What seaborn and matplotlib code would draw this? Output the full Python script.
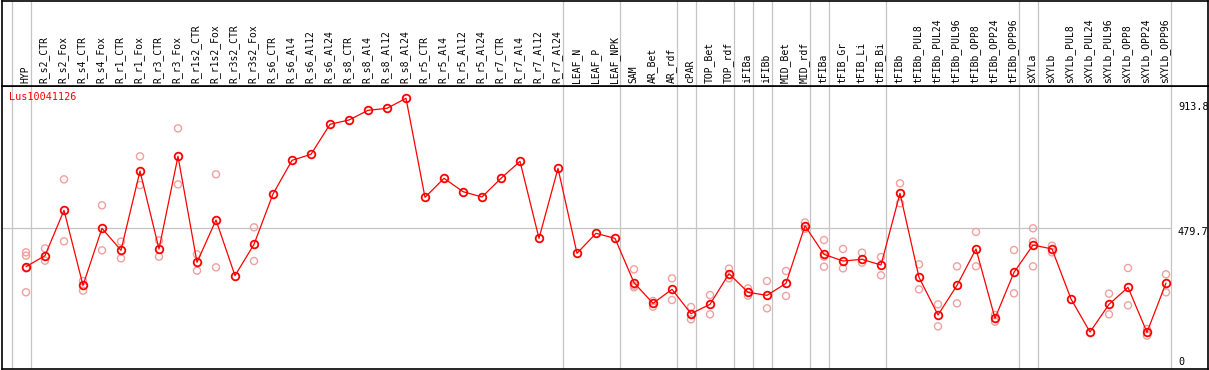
import numpy as np
import pandas as pd
import matplotlib
matplotlib.use("Agg")
import matplotlib.pyplot as plt
import seaborn as sns

categories = [
    "HYP", "R_s2_CTR", "R_s2_Fox", "R_s4_CTR", "R_s4_Fox", "R_r1_CTR", "R_r1_Fox",
    "R_r3_CTR", "R_r3_Fox", "R_r1s2_CTR", "R_r1s2_Fox", "R_r3s2_CTR", "R_r3s2_Fox",
    "R_s6_CTR", "R_s6_Al4", "R_s6_Al12", "R_s6_Al24", "R_s8_CTR", "R_s8_Al4",
    "R_s8_Al12", "R_s8_Al24", "R_r5_CTR", "R_r5_Al4", "R_r5_Al12", "R_r5_Al24",
    "R_r7_CTR", "R_r7_Al4", "R_r7_Al12", "R_r7_Al24", "LEAF_N", "LEAF_P", "LEAF_NPK",
    "SAM", "AR_Bet", "AR_rdf", "cPAR", "TOP_Bet", "TOP_rdf", "iFIBa", "iFIBb",
    "MID_Bet", "MID_rdf", "tFIBa", "tFIB_Gr", "tFIB_Li", "tFIB_Bi", "tFIBb",
    "tFIBb_PUL8", "tFIBb_PUL24", "tFIBb_PUL96", "tFIBb_OPP8", "tFIBb_OPP24",
    "tFIBb_OPP96", "sXYLa", "sXYLb", "sXYLb_PUL8", "sXYLb_PUL24", "sXYLb_PUL96",
    "sXYLb_OPP8", "sXYLb_OPP24", "sXYLb_OPP96",
]

mean_values = [
    351.6, 388.3, 539.7, 289.2, 479.6, 406.1, 671.0, 410.6, 720.0, 366.0,
    507.4, 321.5, 426.2, 594.2, 706.6, 726.7, 826.9, 841.3, 873.6, 880.3,
    913.8, 583.0, 646.5, 602.0, 584.2, 646.5, 703.3, 446.1, 679.9, 396.1,
    462.9, 446.1, 298.1, 229.1, 275.9, 194.6, 225.7, 328.2, 265.9, 255.8,
    295.9, 488.0, 392.7, 370.5, 376.0, 357.1, 596.5, 316.0, 190.2, 289.2,
    410.6, 179.1, 332.6, 423.9, 410.6, 243.6, 133.4, 225.7, 282.6, 132.3,
    297.0,
]

replicate_values = [
    [399.5, 388.2, 346.1, 266.0], [412.6, 371.6], [643.1, 436.2], [303.7, 271.4],
    [556.4, 406.1], [435.1, 379.4], [720.0, 624.0], [439.5, 384.9], [813.4, 626.4],
    [392.7, 338.2], [659.9, 349.4], [], [482.9, 370.5],
    [], [], [], [], [], [], [], [], [], [], [], [], [], [], [], [], [], [], [],
    [342.6, 288.0, 282.7], [236.9, 218.0], [312.6, 240.3], [216.9, 175.7],
    [256.9, 192.4], [344.9, 312.6], [279.2, 254.7], [303.7, 212.4],
    [337.1, 253.6], [499.0, 478.0], [440.6, 351.6, 385.0], [410.6, 346.0],
    [398.3, 364.9], [383.8, 322.6], [629.9, 563.1], [359.4, 275.9],
    [225.7, 152.3], [352.7, 229.1], [467.4, 352.7], [190.2, 167.9],
    [407.2, 262.5], [479.6, 435.1, 352.7], [421.7, 399.4], [],
    [], [261.4, 192.4], [347.1, 222.4], [143.4, 121.2], [326.0, 265.9],
]

group_sizes = [1, 28, 3, 3, 1, 2, 1, 1, 2, 1, 3, 7, 1, 7]
gene_label = "Lus10041126"
ytick_values = [913.8, 479.7, 0]
gridline_value = 479.7

W, H = 1209, 370
RED = "#ff0000"
PINK = "#f0a0a0"
GRID = "#c4c4c4"
MONO = ["DejaVu Sans Mono"]

sns.set_style("white")
plt.rcParams["font.family"] = MONO

fig = plt.figure(figsize=(W / 100, H / 100), dpi=100)
ax_left, ax_right = 1.5, 1208.0
top_sep = 85.5
ax = fig.add_axes([ax_left / W, 1.0 / H, (ax_right - ax_left) / W, (H - 1.0 - top_sep) / H])
hx = fig.add_axes([ax_left / W, (H - top_sep) / H, (ax_right - ax_left) / W, (top_sep - 0.7) / H])

x0_px, dx_px = 26.0, 19.0
xlim = ((ax_left - x0_px) / dx_px, (ax_right - x0_px) / dx_px)
ylim = (9.85, 956.5)

xs = np.arange(len(categories))
mean_df = pd.DataFrame({"x": xs, "value": mean_values})
rep_rows = [(i, v) for i, vals in enumerate(replicate_values) for v in vals]
rep_df = pd.DataFrame(rep_rows, columns=["x", "value"])

# group separators
bounds = np.concatenate([[-1], np.cumsum(group_sizes) - 1]) + 0.247
for a in (ax, hx):
    for b in bounds:
        a.axvline(b, color=GRID, lw=0.9, zorder=1)
ax.hlines(gridline_value, xlim[0], bounds[-1], color=GRID, lw=0.9, zorder=1)

sns.scatterplot(data=rep_df, x="x", y="value", ax=ax, marker="o", s=26,
                facecolor="none", edgecolor=PINK, linewidth=1.0, zorder=3, legend=False)
sns.lineplot(data=mean_df, x="x", y="value", ax=ax, color=RED, lw=0.9,
             marker="o", ms=5.5, mfc="none", mec=RED, mew=1.3, zorder=4)

for a in (ax, hx):
    a.set_xlim(*xlim)
    a.set_xticks([])
    a.set_yticks([])
    a.set_xlabel("")
    a.set_ylabel("")
    for s in a.spines.values():
        s.set_visible(True)
        s.set_color("black")
        s.set_linewidth(1.2)
ax.set_ylim(*ylim)
hx.set_ylim(0, 1)

for i, c in enumerate(categories):
    hx.text(i - 0.05, 0.025, c, rotation=90, ha="center", va="bottom",
            fontsize=7, color="black", family=MONO)

ax.text(0.0065, 0.958, gene_label, transform=ax.transAxes, ha="left", va="center",
        fontsize=7.3, color=RED, family=MONO)

label_x = (1178 - x0_px) / dx_px
offsets_px = {913.8: -9.0, 479.7: -3.4, 0: 10.3}
for v in ytick_values:
    ax.annotate(f"{v:g}", xy=(label_x, v), xytext=(0, offsets_px[v] * 0.72),
                textcoords="offset points", ha="left", va="center", fontsize=7.3,
                color="black", family=MONO, annotation_clip=False)

fig.savefig("out.png", dpi=100)
